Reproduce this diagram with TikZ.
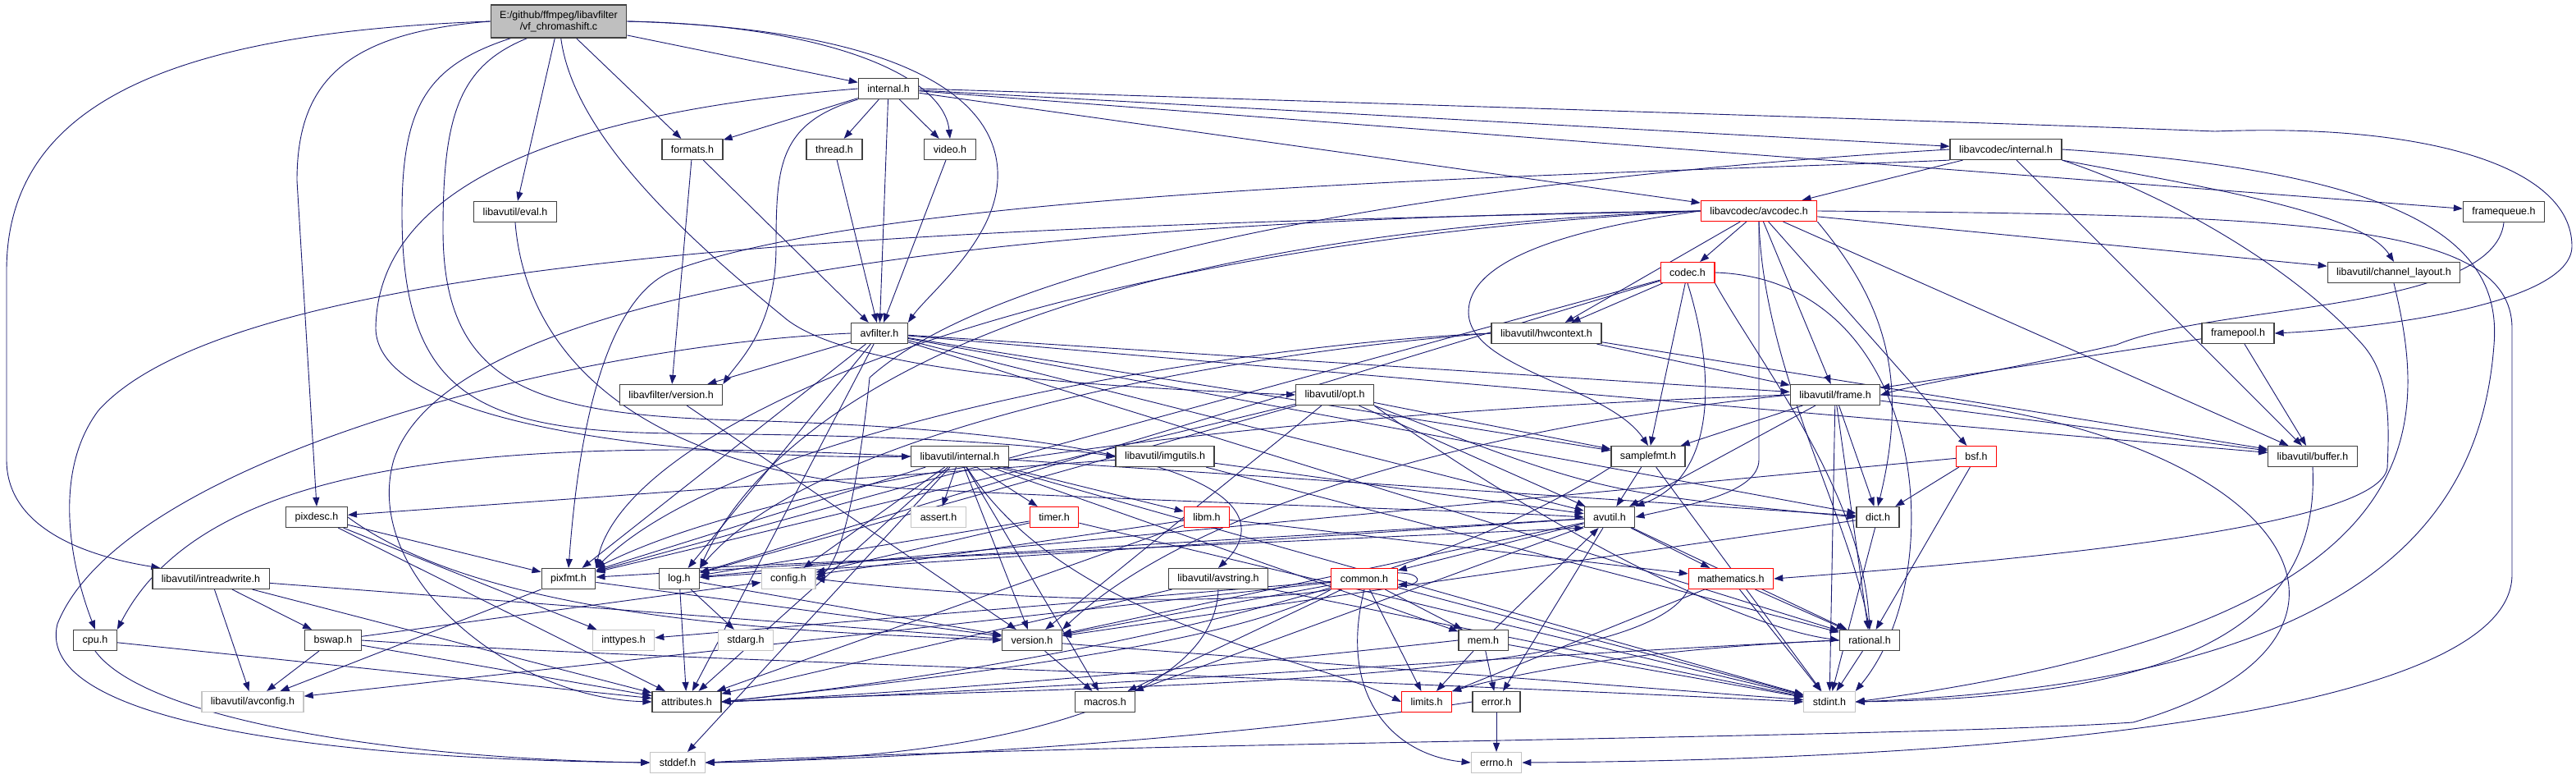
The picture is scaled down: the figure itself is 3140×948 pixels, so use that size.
\documentclass[tikz,border=0pt]{standalone}
\usepackage{fontspec}
\setmainfont{Liberation Sans}
\usetikzlibrary{arrows.meta}
\definecolor{edgeblue}{HTML}{191970}
\definecolor{rootfill}{HTML}{BFBFBF}
\definecolor{sysline}{HTML}{C4C4C4}
\pgfdeclarelayer{back}
\pgfsetlayers{back,main}
\begin{document}
\begin{tikzpicture}[x=1pt,y=-1pt,
  hdr/.style={draw=black!75,line width=1.2pt,fill=white,minimum height=25pt,inner xsep=11pt,inner ysep=2pt,font=\fontsize{12.5}{14}\selectfont},
  sys/.style={hdr,draw=sysline},
  trunc/.style={hdr,draw=red},
  rootbox/.style={hdr,fill=rootfill,minimum height=40pt,align=center},
  incl/.style={draw=edgeblue,line width=0.9pt,-{Triangle[length=11pt,width=8pt]}}]
\useasboundingbox (0,0) rectangle (3140,948);
\node[rootbox] (root) at (681,26) {E:/github/ffmpeg/libavfilter\\/vf\_chromashift.c};
\node[hdr] (lafint) at (1083,108) {internal.h};
\node[hdr] (formats) at (844,182) {formats.h};
\node[hdr] (thread) at (1017,182) {thread.h};
\node[hdr] (video) at (1158,182) {video.h};
\node[hdr] (lacint) at (2445,182) {libavcodec/internal.h};
\node[hdr] (eval) at (628,258) {libavutil/eval.h};
\node[trunc] (avcodec) at (2144,257) {libavcodec/avcodec.h};
\node[hdr] (fqueue) at (3052,258) {framequeue.h};
\node[trunc] (codec) at (2057,332) {codec.h};
\node[hdr] (chlayout) at (2918,332) {libavutil/channel\_layout.h};
\node[hdr] (avfilter) at (1072,406) {avfilter.h};
\node[hdr] (hwctx) at (1885,406) {libavutil/hwcontext.h};
\node[hdr] (fpool) at (2728,406) {framepool.h};
\node[hdr] (lafver) at (818,481) {libavfilter/version.h};
\node[hdr] (opt) at (1627,481) {libavutil/opt.h};
\node[hdr] (frame) at (2237,481) {libavutil/frame.h};
\node[hdr] (lauint) at (1170,556) {libavutil/internal.h};
\node[hdr] (imgutils) at (1420,556) {libavutil/imgutils.h};
\node[hdr] (samplefmt) at (2009,556) {samplefmt.h};
\node[trunc] (bsf) at (2409,556) {bsf.h};
\node[hdr] (buffer) at (2819,556) {libavutil/buffer.h};
\node[hdr] (pixdesc) at (386,630) {pixdesc.h};
\node[sys] (assert) at (1144,630) {assert.h};
\node[trunc] (timer) at (1285,630) {timer.h};
\node[trunc] (libm) at (1471,630) {libm.h};
\node[hdr] (avutil) at (1962,630) {avutil.h};
\node[hdr] (dict) at (2289,630) {dict.h};
\node[hdr] (intrw) at (257,705) {libavutil/intreadwrite.h};
\node[hdr] (pixfmt) at (693,705) {pixfmt.h};
\node[hdr] (log) at (828,705) {log.h};
\node[sys] (config) at (961,705) {config.h};
\node[hdr] (avstring) at (1485,705) {libavutil/avstring.h};
\node[trunc] (common) at (1663,705) {common.h};
\node[trunc] (mathem) at (2110,705) {mathematics.h};
\node[hdr] (cpu) at (116,780) {cpu.h};
\node[hdr] (bswap) at (406,780) {bswap.h};
\node[sys] (inttypes) at (760,780) {inttypes.h};
\node[sys] (stdarg) at (909,780) {stdarg.h};
\node[hdr] (version) at (1258,780) {version.h};
\node[hdr] (mem) at (1808,780) {mem.h};
\node[hdr] (rational) at (2279,780) {rational.h};
\node[sys] (avconfig) at (308,855) {libavutil/avconfig.h};
\node[hdr] (attrib) at (837,855) {attributes.h};
\node[hdr] (macros) at (1347,855) {macros.h};
\node[trunc] (limits) at (1739,855) {limits.h};
\node[hdr] (error) at (1824,855) {error.h};
\node[sys] (stdint) at (2230,855) {stdint.h};
\node[sys] (stddef) at (826,929) {stddef.h};
\node[sys] (errno) at (1824,929) {errno.h};
\begin{pgfonlayer}{back}
\fill[white] (0,0) rectangle (3140,948);
\draw[incl] (root.west) .. controls (200,40) and (8,130) .. (8,330) -- (8,560) .. controls (8,650) and (120,680) .. ([xshift=10pt]intrw.north west);
\draw[incl] (root.west) .. controls (420,40) and (362,100) .. (362,220) -- (pixdesc.north);
\draw[incl] ([xshift=25pt]root.south west) .. controls (520,80) and (490,130) .. (490,260) .. controls (490,480) and (580,525) .. (820,528) .. controls (1100,530) and (1250,540) .. (imgutils.west);
\draw[incl] ([xshift=45pt]root.south west) .. controls (560,80) and (540,140) .. (540,280) .. controls (540,470) and (650,505) .. (900,512) .. controls (1560,530) and (1540,640) .. (avstring.north);
\draw[incl] (root) -- (eval);
\draw[incl] (root) .. controls (700,170) and (850,300) .. (960,390) .. controls (1040,450) and (1300,470) .. (opt.west);
\draw[incl] (root) -- (formats);
\draw[incl] (root) -- (lafint);
\draw[incl] (root.east) .. controls (1000,30) and (1150,90) .. (video.north);
\draw[incl] (root.east) .. controls (1100,35) and (1230,120) .. (1215,230) .. controls (1205,300) and (1130,360) .. (avfilter.north east);
\draw[incl] (lafint) -- (formats);
\draw[incl] (lafint) -- (thread);
\draw[incl] (lafint) -- (video);
\draw[incl] (lafint) -- (avfilter);
\draw[incl] (lafint.south west) .. controls (950,150) and (946,200) .. (946,300) .. controls (946,400) and (900,440) .. (lafver.north east);
\draw[incl] (lafint) -- (lacint);
\draw[incl] (lafint) -- (avcodec);
\draw[incl] (lafint) -- (fqueue);
\draw[incl] (lafint.east) .. controls (1800,130) and (2450,150) .. (2700,160) .. controls (2950,150) and (3135,200) .. (3135,300) .. controls (3135,370) and (2900,400) .. (fpool.east);
\draw[incl] (lafint.west) .. controls (650,140) and (460,240) .. (458,400) .. controls (460,530) and (900,560) .. (lauint.west);
\draw[incl] (formats) -- (avfilter);
\draw[incl] (formats) -- (lafver);
\draw[incl] (thread) -- (avfilter);
\draw[incl] (video) -- (avfilter);
\draw[incl] (eval.south) .. controls (640,420) and (760,570) .. (1100,595) .. controls (1500,615) and (1800,622) .. (avutil.west);
\draw[incl] (lacint) -- (avcodec);
\draw[incl] (lacint.south east) .. controls (2700,230) and (2880,260) .. (chlayout.north);
\draw[incl] (lacint) -- (buffer);
\draw[incl] (lacint.south west) .. controls (2000,212) and (1100,225) .. (820,330) .. controls (720,370) and (700,600) .. (pixfmt.north);
\draw[incl] (lacint.south east) .. controls (2650,240) and (2800,330) .. (2880,420) .. controls (2915,460) and (2912,520) .. (2910,570) .. controls (2900,640) and (2500,680) .. (mathem.east);
\draw[incl] (lacint.east) .. controls (2950,210) and (3050,300) .. (3040,420) .. controls (3025,620) and (2900,830) .. (stdint.east);
\draw[incl] (lacint.west) .. controls (1900,210) and (1250,290) .. (1060,460) .. controls (1050,560) and (1030,680) .. (config.east);
\draw[incl] (avcodec) -- (codec);
\draw[incl] (avcodec) -- (hwctx);
\draw[incl] (avcodec.west) .. controls (1900,280) and (1790,320) .. (1790,380) .. controls (1790,450) and (1960,470) .. (samplefmt.north);
\draw[incl] (avcodec.south) -- (2144,560) .. controls (2144,600) and (2060,615) .. (avutil.east);
\draw[incl] (avcodec.south east) .. controls (2290,360) and (2330,450) .. (dict.north);
\draw[incl] (avcodec) -- (frame);
\draw[incl] (avcodec) -- (buffer);
\draw[incl] (avcodec) -- (chlayout);
\draw[incl] (avcodec) -- (bsf);
\draw[incl] (avcodec.south) .. controls (2150,450) and (2250,620) .. (rational.north);
\draw[incl] (avcodec.east) .. controls (2800,262) and (3062,270) .. (3062,400) -- (3062,700) .. controls (3062,860) and (2500,925) .. (errno.east);
\draw[incl] (avcodec.west) .. controls (1200,275) and (300,300) .. (120,500) .. controls (60,580) and (90,700) .. (cpu.north);
\draw[incl] (avcodec.west) .. controls (1400,265) and (560,320) .. (480,560) .. controls (440,700) and (620,850) .. (attrib.west);
\draw[incl] (avcodec.west) .. controls (1300,285) and (950,480) .. (log.north east);
\draw[incl] (avcodec.west) .. controls (1250,300) and (760,520) .. (pixfmt.north east);
\draw[incl] (codec) -- (hwctx);
\draw[incl] (codec) -- (samplefmt);
\draw[incl] (codec.south) .. controls (2090,450) and (2095,580) .. (avutil.north east);
\draw[incl] (codec.south east) .. controls (2150,450) and (2270,600) .. (rational.north);
\draw[incl] (codec.east) .. controls (2350,340) and (2380,700) .. (stdint.north east);
\draw[incl] (codec) -- (log);
\draw[incl] (codec) -- (pixfmt);
\draw[incl] (chlayout.south) .. controls (2960,520) and (2980,760) .. (stdint.east);
\draw[incl] (fqueue.south) .. controls (3040,380) and (2700,370) .. (2580,420) .. controls (2450,450) and (2350,465) .. (frame.east);
\draw[incl] (hwctx) -- (buffer);
\draw[incl] (hwctx) -- (frame);
\draw[incl] (hwctx.west) .. controls (1500,430) and (1000,520) .. (log.north east);
\draw[incl] (hwctx.west) .. controls (1500,420) and (900,520) .. (pixfmt.north east);
\draw[incl] (fpool) -- (buffer);
\draw[incl] (fpool) -- (frame);
\draw[incl] (avfilter) -- (lafver);
\draw[incl] (avfilter) -- (attrib);
\draw[incl] (avfilter) -- (log);
\draw[incl] (avfilter) -- (pixfmt);
\draw[incl] (avfilter) -- (avutil);
\draw[incl] (avfilter) -- (samplefmt);
\draw[incl] (avfilter) -- (frame);
\draw[incl] (avfilter) -- (buffer);
\draw[incl] (avfilter) -- (dict);
\draw[incl] (avfilter) -- (rational);
\draw[incl] (avfilter.west) .. controls (700,420) and (150,560) .. (70,760) .. controls (40,880) and (400,925) .. (stddef.west);
\draw[incl] (lafver) -- (version);
\draw[incl] (opt.south east) .. controls (1850,620) and (2100,760) .. (rational.west);
\draw[incl] (opt) -- (avutil);
\draw[incl] (opt.south east) .. controls (1950,600) .. (dict.west);
\draw[incl] (opt) -- (log);
\draw[incl] (opt) -- (pixfmt);
\draw[incl] (opt) -- (samplefmt);
\draw[incl] (opt) -- (version);
\draw[incl] (frame.east) .. controls (2800,520) and (2950,780) .. (2600,880) .. controls (2300,900) and (1300,905) .. (stddef.east);
\draw[incl] (frame) -- (stdint);
\draw[incl] (frame) -- (avutil);
\draw[incl] (frame) -- (buffer);
\draw[incl] (frame) -- (dict);
\draw[incl] (frame) -- (rational);
\draw[incl] (frame) -- (samplefmt);
\draw[incl] (frame.west) .. controls (1500,505) and (950,580) .. (pixfmt.north east);
\draw[incl] (frame.west) .. controls (1800,520) and (1450,620) .. (version.north east);
\draw[incl] (lauint) -- (assert);
\draw[incl] (lauint) -- (timer);
\draw[incl] (lauint) -- (libm);
\draw[incl] (lauint) .. controls (1300,760) and (1600,800) .. (limits.west);
\draw[incl] (lauint) -- (stdint);
\draw[incl] (lauint) -- (stddef);
\draw[incl] (lauint) -- (config);
\draw[incl] (lauint) -- (attrib);
\draw[incl] (lauint.west) .. controls (600,530) and (250,560) .. (cpu.north east);
\draw[incl] (lauint) -- (dict);
\draw[incl] (lauint) -- (macros);
\draw[incl] (lauint) -- (mem);
\draw[incl] (lauint) -- (pixfmt);
\draw[incl] (lauint) -- (version);
\draw[incl] (imgutils) -- (avutil);
\draw[incl] (imgutils) -- (pixdesc);
\draw[incl] (imgutils) -- (rational);
\draw[incl] (samplefmt) -- (stdint);
\draw[incl] (samplefmt) -- (avutil);
\draw[incl] (samplefmt.south west) .. controls (1700,740) and (1200,820) .. (attrib.east);
\draw[incl] (bsf) -- (dict);
\draw[incl] (bsf) -- (rational);
\draw[incl] (bsf) -- (log);
\draw[incl] (buffer.south) .. controls (2830,790) and (2600,850) .. (stdint.east);
\draw[incl] (pixdesc) -- (inttypes);
\draw[incl] (pixdesc) -- (attrib);
\draw[incl] (pixdesc) -- (pixfmt);
\draw[incl] (pixdesc.east) .. controls (600,760) and (1000,770) .. (version.west);
\draw[incl] (timer) -- (log);
\draw[incl] (timer) -- (config);
\draw[incl] (timer) -- (stdint);
\draw[incl] (libm) -- (config);
\draw[incl] (libm) -- (attrib);
\draw[incl] (libm) -- (mathem);
\draw[incl] (avutil) -- (common);
\draw[incl] (avutil) -- (error);
\draw[incl] (avutil) -- (rational);
\draw[incl] (avutil) -- (version);
\draw[incl] (avutil) -- (macros);
\draw[incl] (avutil) -- (mathem);
\draw[incl] (avutil) -- (log);
\draw[incl] (avutil) -- (pixfmt);
\draw[incl] (dict) -- (stdint);
\draw[incl] (dict) -- (version);
\draw[incl] (intrw) -- (avconfig);
\draw[incl] (intrw) -- (bswap);
\draw[incl] (intrw) -- (attrib);
\draw[incl] (intrw) -- (stdint);
\draw[incl] (pixfmt) -- (avconfig);
\draw[incl] (pixfmt) -- (version);
\draw[incl] (log) -- (stdarg);
\draw[incl] (log.north east) -- (avutil.south west);
\draw[incl] (log) -- (attrib);
\draw[incl] (log) -- (version);
\draw[incl] (avstring.south) .. controls (1480,860) and (1200,925) .. (stddef.east);
\draw[incl] (avstring) -- (stdint);
\draw[incl] (avstring) -- (attrib);
\draw[incl] ([yshift=-6pt]common.north east) .. controls +(30,0) and +(30,0) .. ([yshift=6pt]common.south east);
\draw[incl] (common) -- (mem);
\draw[incl] (common) -- (limits);
\draw[incl] (common.south) .. controls (1630,850) and (1700,920) .. (errno.west);
\draw[incl] (common.south west) .. controls (1500,790) and (1100,830) .. (attrib.east);
\draw[incl] (common) -- (macros);
\draw[incl] (common) -- (version);
\draw[incl] (common) -- (avconfig);
\draw[incl] (common) -- (stdint);
\draw[incl] (common) -- (inttypes);
\draw[incl] (common.south west) .. controls (1500,740) and (1200,730) .. (config.east);
\draw[incl] (mathem) -- (rational);
\draw[incl] (mathem) -- (stdint);
\draw[incl] (mathem) -- (limits);
\draw[incl] (mathem.south west) .. controls (2000,840) and (1300,835) .. (attrib.east);
\draw[incl] (rational) -- (stdint);
\draw[incl] (rational.west) .. controls (2000,790) and (1850,820) .. (limits.north east);
\draw[incl] (rational.west) .. controls (1900,795) and (1300,840) .. (attrib.east);
\draw[incl] (mem) -- (limits);
\draw[incl] (mem) -- (error);
\draw[incl] (mem) -- (stdint);
\draw[incl] (mem) -- (avutil);
\draw[incl] (mem.west) .. controls (1600,800) and (1200,840) .. (attrib.east);
\draw[incl] (error) -- (errno);
\draw[incl] (error.west) .. controls (1500,900) and (1100,925) .. (stddef.east);
\draw[incl] (version) -- (macros);
\draw[incl] (cpu) -- (attrib);
\draw[incl] (cpu.south) .. controls (180,880) and (500,925) .. (stddef.west);
\draw[incl] (bswap) -- (avconfig);
\draw[incl] (bswap) -- (attrib);
\draw[incl] (bswap.east) .. controls (800,805) and (1500,820) .. (stdint.west);
\draw[incl] (bswap) -- (config);
\end{pgfonlayer}
\end{tikzpicture}
\end{document}
